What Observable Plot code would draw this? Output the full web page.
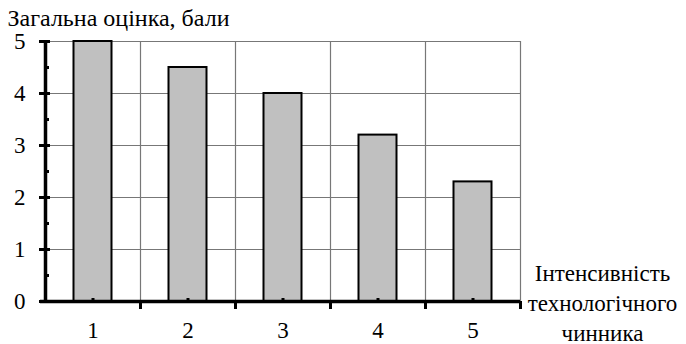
<!DOCTYPE html>
<html>
<head>
<meta charset="utf-8">
<script src="https://cdn.jsdelivr.net/npm/d3@7"></script>
<script src="https://cdn.jsdelivr.net/npm/@observablehq/plot@0.6"></script>
<style>
  html, body { margin: 0; padding: 0; background: #fff; }
  #chart svg { display: block; }
</style>
</head>
<body>
<div id="chart"></div>
<script>
const categories = [1, 2, 3, 4, 5];
const scores = [5, 4.5, 4, 3.2, 2.3];
const yTicks = [0, 1, 2, 3, 4, 5];
const yMinorTicks = [0.5, 1.5, 2.5, 3.5, 4.5];
const titleText = "Загальна оцінка, бали";
const xLabelText = "Інтенсивність\nтехнологічного\nчинника";

const data = categories.map((c, i) => ({c, v: scores[i]}));
const boundaries = [...categories.map(c => c - 0.5), categories[categories.length - 1] + 0.5];
const barHalf = 0.2;
const font = "Liberation Serif";
const fs = 23;
const titleFs = 24;
const grid = "#777";

const chart = Plot.plot({
  width: 686,
  height: 344,
  marginLeft: 45,
  marginRight: 166,
  marginTop: 41,
  marginBottom: 43,
  style: {fontFamily: "'Liberation Serif', 'Times New Roman', serif"},
  x: {type: "linear", domain: [boundaries[0], boundaries[boundaries.length - 1]], axis: null},
  y: {domain: [0, 5], axis: null},
  marks: [
    Plot.ruleY(yTicks.filter(t => t > 0), {stroke: grid, strokeWidth: 1.2}),
    Plot.ruleX(boundaries.slice(1), {stroke: grid, strokeWidth: 1.2}),
    Plot.rectY(data, {x1: d => d.c - barHalf, x2: d => d.c + barHalf, y1: 0, y2: "v", fill: "#c0c0c0", stroke: "#000", strokeWidth: 2}),
    Plot.ruleY([0], {stroke: "#000", strokeWidth: 3.5, insetLeft: -5}),
    Plot.ruleX([boundaries[0]], {y1: 0, y2: 5, stroke: "#000", strokeWidth: 3.5}),
    Plot.axisY({ticks: yTicks, label: null, tickSize: 6, tickPadding: 14, strokeWidth: 3, fontSize: fs, fontFamily: font, fill: "#000", tickFormat: d => String(d)}),
    Plot.axisY({ticks: yTicks, label: null, tickSize: 5, dx: 5, strokeWidth: 3, text: null}),
    Plot.axisY({ticks: yMinorTicks, label: null, tickSize: 4, dx: 4, strokeWidth: 3, text: null}),
    Plot.axisX({ticks: boundaries.slice(1), label: null, tickSize: 8, strokeWidth: 3, text: null}),
    Plot.axisX({ticks: categories, label: null, tickSize: 3, dy: -3, strokeWidth: 3, text: null}),
    Plot.axisX({ticks: categories, label: null, tickSize: 0, tickPadding: 20, fontSize: fs, fontFamily: font, fill: "#000", tickFormat: d => String(d)}),
    Plot.text([titleText], {frameAnchor: "top-left", textAnchor: "start", lineAnchor: "bottom", dx: -38, dy: -16, fontSize: titleFs, fontFamily: font, fill: "#000"}),
    Plot.text([xLabelText], {frameAnchor: "bottom-right", textAnchor: "middle", lineAnchor: "bottom", dx: 82, dy: 39, lineHeight: 30 / fs, fontSize: fs, fontFamily: font, fill: "#000"})
  ]
});
chart.querySelectorAll("text, tspan").forEach(t => {
  t.style.setProperty("font-family", "'Liberation Serif', 'Times New Roman', serif", "important");
});
document.getElementById("chart").appendChild(chart);
</script>
</body>
</html>
